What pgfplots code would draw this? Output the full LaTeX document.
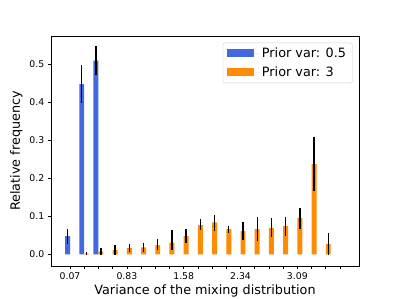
\documentclass[border=0pt]{standalone}
\usepackage{fontspec}
\setmainfont{DejaVu Sans}
\usepackage{pgfplots}
\usepackage{pgfplotstable}
\pgfplotsset{compat=1.18}
\definecolor{royal}{HTML}{4169E1}
\definecolor{dorange}{HTML}{FF8C00}
\pgfplotstableread{
x y ep em
0 0.048 0.018 0.021
1 0.447 0.050 0.050
2 0.509 0.038 0.038
}\blue
\pgfplotstableread{
x y ep em
1 0.002 0.004 0.004
2 0.007 0.009 0.009
3 0.011 0.013 0.013
4 0.016 0.011 0.011
5 0.018 0.013 0.011
6 0.024 0.016 0.013
7 0.031 0.033 0.020
8 0.048 0.018 0.017
9 0.077 0.015 0.013
10 0.084 0.019 0.022
11 0.066 0.008 0.009
12 0.061 0.024 0.023
13 0.066 0.031 0.030
14 0.069 0.026 0.024
15 0.074 0.023 0.025
16 0.095 0.026 0.029
17 0.237 0.070 0.070
18 0.027 0.028 0.029
}\orange
\begin{document}
\begin{tikzpicture}[x=1pt,y=1pt]
\useasboundingbox (0,0) rectangle (399,299);
\begin{axis}[
  at={(51pt,33pt)}, anchor=south west,
  scale only axis, width=308pt, height=230pt,
  xmin=-1.34, xmax=20.34, ymin=-0.0307, ymax=0.5736,
  xtick={0,...,19},
  xticklabels={0.07,,,,0.83,,,,1.58,,,,2.34,,,,3.09,,,},
  ytick={0,0.1,0.2,0.3,0.4,0.5},
  yticklabel style={/pgf/number format/.cd,fixed,fixed zerofill,precision=1},
  /pgf/number format/assume math mode=true,
  ticklabel style={font=\fontsize{9.3}{11}\selectfont},
  tick align=outside, tick pos=left,
  major tick length=3.2pt,
  tick style={black, line width=0.7pt},
  axis line style={black, line width=0.7pt},
  xlabel={Variance of the mixing distribution},
  ylabel={Relative frequency},
  label style={font=\fontsize{12.8}{15}\selectfont},
  xlabel style={yshift=2pt},
  legend style={font=\fontsize{12.8}{15}\selectfont, draw=black!20, rounded corners=2pt,
    at={(0.9795,0.971)}, anchor=north east, inner xsep=4.5pt, inner ysep=3pt,
    row sep=3.5pt, /tikz/every even column/.append style={column sep=0pt}},
  legend cell align=left,
  legend image code/.code={\fill[#1, draw=none, sharp corners] (0pt,-4pt) rectangle (26.7pt,4pt);
    \path (0pt,0pt) -- (32.5pt,0pt);},
  error bars/error bar style={black, line width=1.4pt},
]
\addplot[ybar, bar width=0.35, bar shift=0, fill=royal, draw=none,
  error bars/.cd, y dir=both, y explicit, error mark=none]
  table[x expr=\thisrow{x}-0.175, y=y, y error plus=ep, y error minus=em]{\blue};
\addlegendentry{Prior var: 0.5}
\addplot[ybar, bar width=0.35, bar shift=0, fill=dorange, draw=none,
  error bars/.cd, y dir=both, y explicit, error mark=none]
  table[x expr=\thisrow{x}+0.175, y=y, y error plus=ep, y error minus=em]{\orange};
\addlegendentry{Prior var: 3}
\end{axis}
\end{tikzpicture}
\end{document}
